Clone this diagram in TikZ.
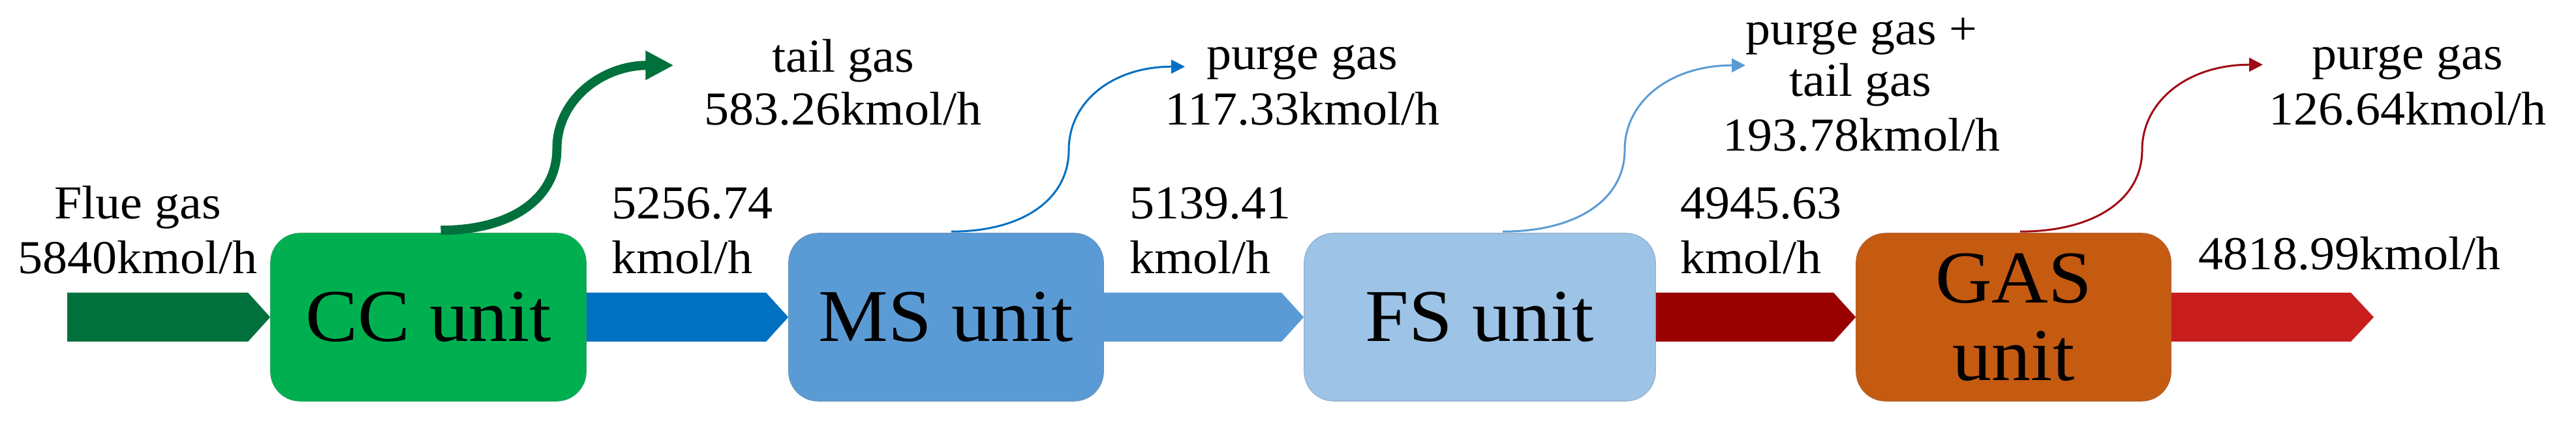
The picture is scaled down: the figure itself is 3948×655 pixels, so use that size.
\documentclass[tikz,border=0pt]{standalone}
\usepackage{fontspec}
\setmainfont{Liberation Serif}[FakeStretch=1.05]
\usetikzlibrary{arrows.meta,calc}
\definecolor{dgreen}{HTML}{00703C}
\definecolor{ccgreen}{HTML}{00B050}
\definecolor{blueA}{HTML}{0070C0}
\definecolor{msblue}{HTML}{5B9BD5}
\definecolor{fsblue}{HTML}{9DC3E6}
\definecolor{dred}{HTML}{990000}
\definecolor{gasorange}{HTML}{C55A11}
\definecolor{redout}{HTML}{C81E1E}
\definecolor{curvered}{HTML}{A00A14}
\tikzset{
  unitbox/.style={rounded corners=0.45cm, minimum height=2.57cm, inner sep=0pt,
     font=\fontsize{32.5}{38}\selectfont, align=center},
  lbl/.style={anchor=base, inner sep=0pt, font=\fontsize{20.6}{24}\selectfont},
  lblw/.style={lbl, anchor=base west},
  flowthick/.style={line width=0.14cm, -{Triangle[length=0.43cm,width=0.42cm]}},
  flowthin/.style={line width=0.03cm, -{Triangle[length=0.21cm,width=0.21cm]}},
}
\begin{document}
\begin{tikzpicture}[x=0.01cm,y=0.01cm]
\useasboundingbox (0,0) rectangle (3948,-655);
% boxes
\node[unitbox, fill=ccgreen, draw=ccgreen!80!gray, minimum width=4.83cm] (cc) at (656.5,-486.5) {CC unit};
\node[unitbox, fill=msblue, draw=msblue!80!gray, minimum width=4.82cm] (ms) at (1450,-486.5) {MS unit};
\node[unitbox, fill=fsblue, draw=fsblue!80!gray, minimum width=5.38cm] (fs) at (2268,-486.5) {FS unit};
\node[unitbox, fill=gasorange, draw=gasorange!80!gray, minimum width=4.82cm] (gas) at (3086,-486.5) {GAS\\[-0.15cm]unit};
% input / output coordinates
\coordinate (in) at (103,-486.5);
\coordinate (out) at (3638,-486.5);
% chevron arrows
\fill[dgreen] ($(in)+(0,37.5)$) -- ($(cc.west)+(-34,37.5)$) -- (cc.west) -- ($(cc.west)+(-34,-37.5)$) -- ($(in)+(0,-37.5)$) -- cycle;
\fill[blueA] ($(cc.east)+(0,37.5)$) -- ($(ms.west)+(-34,37.5)$) -- (ms.west) -- ($(ms.west)+(-34,-37.5)$) -- ($(cc.east)+(0,-37.5)$) -- cycle;
\fill[msblue] ($(ms.east)+(0,37.5)$) -- ($(fs.west)+(-34,37.5)$) -- (fs.west) -- ($(fs.west)+(-34,-37.5)$) -- ($(ms.east)+(0,-37.5)$) -- cycle;
\fill[dred] ($(fs.east)+(0,37.5)$) -- ($(gas.west)+(-34,37.5)$) -- (gas.west) -- ($(gas.west)+(-34,-37.5)$) -- ($(fs.east)+(0,-37.5)$) -- cycle;
\fill[redout] ($(gas.east)+(0,37.5)$) -- ($(out)+(-35,37.5)$) -- (out) -- ($(out)+(-35,-37.5)$) -- ($(gas.east)+(0,-37.5)$) -- cycle;
% side stream curves
\coordinate (gs) at ($(cc.north)+(19,4)$);
\coordinate (gm) at ($(gs)+(178,125)$);
\coordinate (gt) at ($(gs)+(357,253)$);
\draw[flowthick, dgreen] (gs) .. controls +(110,0) and +(0,-75) .. (gm) .. controls +(0,75) and +(-110,0) .. (gt);
\coordinate (bs) at ($(ms.north)+(8,2)$);
\coordinate (bm) at ($(bs)+(180,125)$);
\coordinate (bt) at ($(bs)+(358,253)$);
\draw[flowthin, blueA] (bs) .. controls +(110,0) and +(0,-75) .. (bm) .. controls +(0,75) and +(-110,0) .. (bt);
\coordinate (fs1) at ($(fs.north)+(35,2)$);
\coordinate (fm) at ($(fs1)+(187,125)$);
\coordinate (ft) at ($(fs1)+(372,255)$);
\draw[flowthin, msblue] (fs1) .. controls +(115,0) and +(0,-75) .. (fm) .. controls +(0,75) and +(-115,0) .. (ft);
\coordinate (rs) at ($(gas.north)+(10,2)$);
\coordinate (rm) at ($(rs)+(187,125)$);
\coordinate (rt) at ($(rs)+(372,256)$);
\draw[flowthin, curvered] (rs) .. controls +(115,0) and +(0,-75) .. (rm) .. controls +(0,75) and +(-115,0) .. (rt);
% labels
\node[lbl] (l1a) at (211,-336) {Flue gas};
\node[lbl] (l1b) at (211,-420) {5840kmol/h};
\node[lbl] (l2a) at (1292,-111) {tail gas};
\node[lbl] (l2b) at (1292,-192) {583.26kmol/h};
\node[lblw] (l3a) at (937,-336) {5256.74};
\node[lblw] (l3b) at (937,-420) {kmol/h};
\node[lbl] (l4a) at (1996,-107) {purge gas};
\node[lbl] (l4b) at (1996,-192) {117.33kmol/h};
\node[lblw] (l5a) at (1731,-336) {5139.41};
\node[lblw] (l5b) at (1731,-420) {kmol/h};
\node[lbl] (l6a) at (2853,-69) {purge gas +};
\node[lbl] (l6b) at (2851,-148) {tail gas};
\node[lbl] (l6c) at (2853,-232) {193.78kmol/h};
\node[lblw] (l7a) at (2575,-336) {4945.63};
\node[lblw] (l7b) at (2575,-420) {kmol/h};
\node[lbl] (l8a) at (3690,-107) {purge gas};
\node[lbl] (l8b) at (3690,-192) {126.64kmol/h};
\node[lbl] (l9) at (3601,-414) {4818.99kmol/h};
\end{tikzpicture}
\end{document}
